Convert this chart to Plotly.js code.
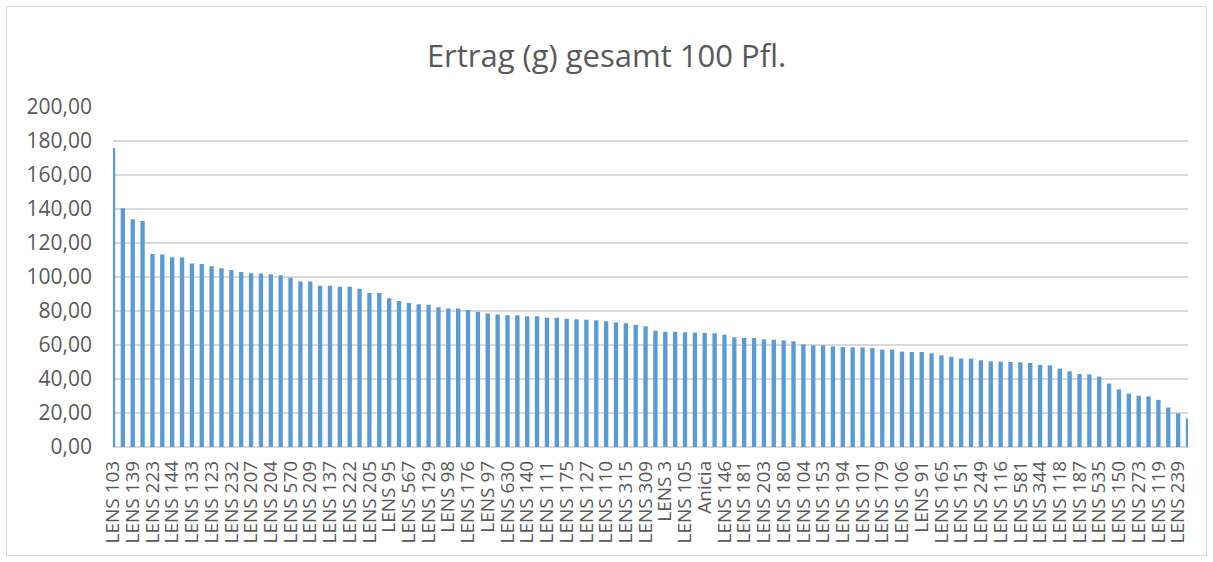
<!DOCTYPE html>
<html>
<head>
<meta charset="utf-8">
<script src="https://cdn.plot.ly/plotly-3.0.1.min.js"></script>
<style>
  html, body { margin: 0; padding: 0; background: #fff; }
  #wrap { position: relative; width: 1213px; height: 562px; }
  #chart { position: absolute; left: 0; top: 0; width: 1213px; height: 562px; }
  #frame { position: absolute; left: 6px; top: 6px; width: 1199px; height: 548px; border: 1.5px solid #d9d9d9; pointer-events: none; }
</style>
</head>
<body>
<div id="wrap">
  <div id="chart"></div>
  <div id="frame"></div>
</div>
<script>
// Tick labels (every second category is labelled in the original chart)
const tickLabels = [
  "LENS 103","LENS 139","LENS 223","LENS 144","LENS 133","LENS 123","LENS 232","LENS 207",
  "LENS 204","LENS 570","LENS 209","LENS 137","LENS 222","LENS 205","LENS 95","LENS 567",
  "LENS 129","LENS 98","LENS 176","LENS 97","LENS 630","LENS 140","LENS 111","LENS 175",
  "LENS 127","LENS 110","LENS 315","LENS 309","LENS 3","LENS 105","Anicia","LENS 146",
  "LENS 181","LENS 203","LENS 180","LENS 104","LENS 153","LENS 194","LENS 101","LENS 179",
  "LENS 106","LENS 91","LENS 165","LENS 151","LENS 249","LENS 116","LENS 581","LENS 344",
  "LENS 118","LENS 187","LENS 535","LENS 150","LENS 273","LENS 119","LENS 239"
];

// Ertrag (g) gesamt 100 Pfl. — one value per variety, sorted descending
const yieldValues = [
  175.9,140.4,133.9,132.9,113.5,113.3,111.6,111.4,107.9,107.7,
  106.3,105.1,104.1,102.9,102.2,102.0,101.6,101.0,99.6,97.3,
  97.3,94.9,94.9,94.3,94.3,93.1,90.6,90.6,87.5,85.9,
  84.7,83.9,83.7,82.2,81.4,81.4,80.6,79.6,78.6,78.0,
  77.5,77.5,76.9,76.9,76.1,76.1,75.5,75.1,74.9,74.5,
  73.9,73.3,72.8,71.8,71.0,68.4,67.8,67.8,67.5,67.3,
  67.1,66.9,66.1,64.5,64.1,64.1,63.3,63.1,62.7,62.2,
  60.4,59.8,59.8,59.2,58.8,58.6,58.6,58.2,57.3,57.3,
  56.1,55.9,55.9,55.1,53.9,53.1,52.0,52.0,51.0,50.4,
  50.2,50.0,49.8,49.4,48.2,48.0,46.1,44.5,42.9,42.7,
  41.4,37.3,33.9,31.4,30.2,29.8,27.7,23.2,19.8,16.7
];

const xIndex = yieldValues.map((v, i) => i);
const tickPositions = tickLabels.map((t, i) => i * 2);

const trace = {
  type: 'bar',
  x: xIndex,
  y: yieldValues,
  width: 0.44,
  marker: { color: '#5b9bd5', line: { width: 0 } },
  hoverinfo: 'x+y'
};

const layout = {
  width: 1213,
  height: 562,
  paper_bgcolor: '#ffffff',
  plot_bgcolor: '#ffffff',
  separators: ',.',
  margin: { l: 113, r: 25, t: 107, b: 115, pad: 0 },
  title: {
    text: 'Ertrag (g) gesamt 100 Pfl.',
    font: { family: 'Open Sans, sans-serif', size: 31, color: '#595959' },
    x: 0.5, xanchor: 'center',
    y: 0.9, yanchor: 'middle'
  },
  showlegend: false,
  bargap: 0.55,
  xaxis: {
    range: [0, 109],
    tickmode: 'array',
    tickvals: tickPositions,
    ticktext: tickLabels,
    tickangle: -90,
    tickfont: { family: 'Open Sans, sans-serif', size: 19, color: '#595959' },
    showgrid: false,
    zeroline: false,
    showline: false,
    ticks: '',
    ticklabelstandoff: 9,
    fixedrange: true
  },
  yaxis: {
    range: [0, 200],
    dtick: 20,
    tick0: 0,
    tickformat: '.2f',
    tickfont: { family: 'Open Sans, sans-serif', size: 21, color: '#595959' },
    showgrid: true,
    gridcolor: '#d9d9d9',
    gridwidth: 1.3,
    zeroline: true,
    zerolinecolor: '#d9d9d9',
    zerolinewidth: 1.3,
    showline: false,
    ticks: '',
    ticklabelstandoff: 20,
    fixedrange: true
  }
};

Plotly.newPlot('chart', [trace], layout, { displayModeBar: false, staticPlot: true });
</script>
</body>
</html>
